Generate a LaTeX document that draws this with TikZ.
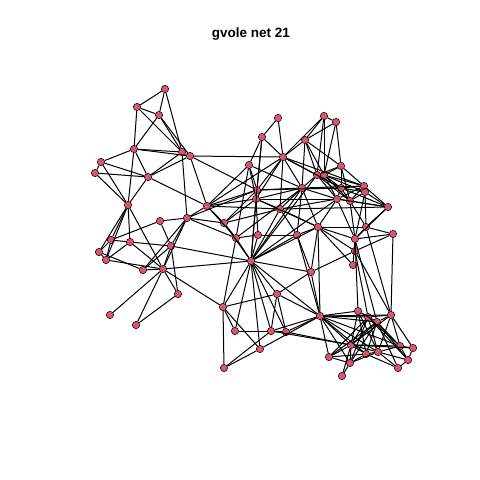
\documentclass[tikz,border=0pt]{standalone}
\usepackage{fontspec}
\setmainfont{Liberation Sans}
\definecolor{vcol}{RGB}{223,83,107}
\begin{document}
\begin{tikzpicture}[x=1pt,y=-1pt,
  vtx/.style={circle,fill=vcol,draw=black,line width=0.5pt,inner sep=0pt,minimum size=7.4pt},
  edg/.style={black,line width=1pt}]
\useasboundingbox[fill=white] (0,0) rectangle (480,480);
\node[font=\fontsize{13.5}{16}\selectfont\bfseries,anchor=base] (title) at (251,37) {gvole net 21};
\foreach \i/\x/\y in {
1/165/89,2/137/107,3/159/115,4/134/149,5/182/152,6/190/156,7/101/162,8/95/173,9/148/177,10/128/205,
11/207/206,12/249/165,13/160/221,14/187/218,15/224/223,16/111/240,17/130/242,18/99/252,19/106/260,20/171/246,
21/236/238,22/143/270,23/163/269,24/251/261,25/178/294,26/223/307,27/110/315,28/136/325,29/235/331,30/278/118,
31/324/116,32/336/122,33/262/137,34/305/140,35/283/157,36/341/166,37/317/175,38/324/175,39/257/190,40/302/188,
41/341/188,42/364/186,43/365/192,44/256/199,45/337/199,46/350/201,47/280/209,48/388/207,49/318/227,50/366/227,
51/258/235,52/297/235,53/355/239,54/393/234,55/311/272,56/277/294,57/320/316,58/271/331,59/286/332,60/260/349,
61/329/357,62/224/368,63/358/311,64/368/317,65/391/315,66/377/322,67/351/345,68/350/363,69/366/354,70/378/352,
71/400/346,72/413/348,73/408/360,74/398/368,75/342/376,76/355/251,77/353/265}
  \node[vtx] (p\i) at (\x,\y) {};
\foreach \a/\b in {
1/2,1/3,1/5,2/3,2/4,2/5,3/4,3/6,3/5,4/5,4/6,4/7,4/9,4/10,7/8,7/9,7/10,8/9,8/10,9/5,9/6,9/11,9/10,5/14,6/11,5/6,6/35,6/39,
11/14,11/15,11/39,11/44,11/47,11/21,11/12,11/35,14/39,15/47,12/21,
12/39,12/44,12/33,12/40,
13/14,13/20,13/16,14/15,14/20,14/22,14/23,14/21,
15/21,15/24,15/39,15/44,
10/16,10/17,10/18,10/19,10/23,16/17,16/18,16/19,17/19,18/19,18/22,19/23,17/23,17/20,20/22,20/23,22/23,20/24,23/24,21/24,21/26,24/26,
21/51,21/40,51/24,51/44,51/52,
27/23,28/23,28/25,25/23,25/20,23/26,26/62,26/29,26/56,26/60,
24/29,24/56,24/58,24/59,24/60,24/57,24/55,24/44,24/39,24/40,24/37,24/45,24/47,24/52,24/49,
55/56,55/57,56/58,56/59,56/57,29/58,58/59,58/57,59/57,60/57,62/60,62/58,58/67,59/67,
30/33,30/35,31/32,31/34,31/35,31/38,31/37,32/34,32/36,32/38,33/39,33/35,33/44,
34/35,34/36,34/37,34/38,34/40,35/39,35/40,35/37,35/41,35/44,35/47,35/42,
36/38,36/41,36/42,36/37,36/46,37/38,37/40,37/45,37/46,37/41,38/41,38/42,38/45,38/46,38/43,
39/40,39/44,39/41,40/41,40/42,40/45,40/49,40/47,40/44,40/52,
41/42,41/43,41/46,41/45,42/43,42/48,42/45,42/46,43/48,43/46,43/53,43/50,
44/47,44/45,44/49,45/46,45/49,45/53,45/47,46/48,46/53,46/50,47/52,47/49,47/48,48/50,48/53,48/41,48/45,
49/50,49/52,49/53,49/55,49/57,49/76,50/54,50/53,52/55,52/57,53/54,53/76,76/54,76/55,77/49,77/53,
53/63,53/66,76/64,76/65,54/65,50/65,
57/63,57/64,57/65,57/66,57/67,57/61,57/68,57/69,57/70,57/71,
63/64,63/66,63/67,63/69,63/70,64/66,64/65,64/67,64/70,64/71,64/73,65/66,65/71,65/72,65/70,65/67,66/67,66/69,66/71,66/73,66/74,
67/61,67/68,67/69,67/70,67/71,67/72,67/75,68/61,68/69,68/75,68/70,69/70,69/74,70/71,70/73,70/74,71/72,71/73,72/73,73/74,
61/69,61/66,61/64,68/64,68/66}
  \draw[edg] (p\a) -- (p\b);
\end{tikzpicture}
\end{document}
